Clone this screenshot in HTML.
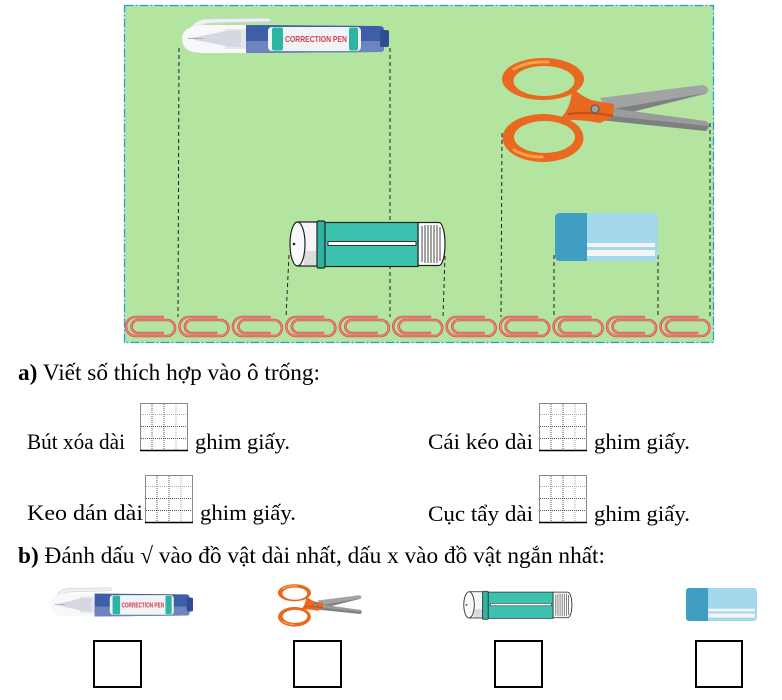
<!DOCTYPE html>
<html><head><meta charset="utf-8"><style>
html,body{margin:0;padding:0;background:#fff;}
svg{display:block;}
.t{font-family:"Liberation Serif","Noto Serif CJK SC",serif;fill:#000;}
</style></head><body>
<svg width="782" height="700" viewBox="0 0 782 700" xmlns="http://www.w3.org/2000/svg">
<defs>
<symbol id="pen" viewBox="0 0 208 38" preserveAspectRatio="none">
<path d="M9 13 Q12 3 26 2 L86 1 Q91 1.5 89 4.5 L30 6 Q18 7 15 13 Z" fill="#eef0f5" stroke="#cfd3dc" stroke-width="0.8"/>
<path d="M66 8 L22 8 Q1 9 1 22 Q1 36 22 36 L66 36 Z" fill="#f8f8fb"/>
<rect x="44" y="12" width="22" height="20" fill="#e6e7ee"/>
<path d="M60 13 L44 14 L30 17 L12 20.5 L12 22.5 L30 26 L44 29 L60 30 Z" fill="#d6d8e1"/>
<line x1="7" y1="21.5" x2="22" y2="21.5" stroke="#a9acb8" stroke-width="1"/>
<path d="M65 8 L198 9 Q203 9 203 13 L203 32 Q203 35 198 35 L65 36 Z" fill="#3f5ea8"/>
<path d="M65 24 L203 24 L203 32 Q203 35 198 35 L65 36 Z" fill="#6d84bf"/>
<rect x="87" y="10" width="93" height="24" rx="4" fill="#f2f3f5"/>
<rect x="91" y="10.5" width="11" height="23" rx="2" fill="#2cb5a3"/>
<rect x="168" y="10.5" width="9" height="23" rx="2" fill="#2cb5a3"/>
<text x="135" y="25" font-size="8.5" font-weight="bold" text-anchor="middle" textLength="62" lengthAdjust="spacingAndGlyphs" font-family="Liberation Sans, sans-serif" fill="#d0404e">CORRECTION PEN</text>
<rect x="199" y="13" width="9" height="17" rx="2" fill="#2f4c94"/>
</symbol>

<symbol id="sc" viewBox="0 0 212 108" preserveAspectRatio="none">
<path d="M100 43 L202 30 Q212 32 206 39 L112 62 Z" fill="#a2a4a4"/>
<path d="M106 55 L206 38 L112 62 Z" fill="#7f8181"/>
<path d="M102 52 L206 66 Q213 71 206 76 L100 65 Z" fill="#9a9c9c"/>
<path d="M102 60 L208 71 L206 76 L100 65 Z" fill="#7e8080"/>
<path fill-rule="evenodd" fill="#e8691f" d="M2 24 A41 21 0 1 0 84 24 A41 21 0 1 0 2 24 Z M13.5 26 A30.5 15 0 1 1 74.5 26 A30.5 15 0 1 1 13.5 26 Z"/>
<path fill-rule="evenodd" fill="#e8691f" d="M2.5 83 A40.5 24 0 1 0 83.5 83 A40.5 24 0 1 0 2.5 83 Z M14 82 A30.5 16 0 1 1 75 82 A30.5 16 0 1 1 14 82 Z"/>
<path d="M72 32 Q84 44 96 46 L114 49 L113 62 L100 68 Q85 65 72 65 L60 64 Q72 52 72 32 Z" fill="#e8691f"/>
<path d="M68 59 Q90 56 113 61" stroke="#c9501a" stroke-width="2.2" fill="none"/>
<path d="M14 14 Q28 6 48 7" stroke="#f7a449" stroke-width="3" fill="none" stroke-linecap="round"/>
<path d="M14 95 Q26 102 42 102" stroke="#f7a449" stroke-width="3" fill="none" stroke-linecap="round"/>
<circle cx="95" cy="54" r="4" fill="#a0a0a0" stroke="#5c5c5c" stroke-width="1.3"/>
</symbol>

<symbol id="glue" viewBox="0 0 162 52" preserveAspectRatio="none">
<path d="M11.5 3 L32 3 L32 47 L11.5 47 Z" fill="#f6f6f6" stroke="#222" stroke-width="1.2"/>
<rect x="18" y="32" width="14" height="14" fill="#dcdcdc"/>
<ellipse cx="11.5" cy="25" rx="7.5" ry="22" fill="#fafafa" stroke="#222" stroke-width="1.2"/>
<circle cx="8" cy="25" r="1.3" fill="#222"/>
<path d="M132 3.5 L153 3.5 A6 21.5 0 0 1 153 46.5 L132 46.5 Z" fill="#fff" stroke="#222" stroke-width="1.2"/>
<g stroke="#333" stroke-width="0.9">
<line x1="136" y1="7" x2="136" y2="43"/><line x1="139" y1="6" x2="139" y2="44"/><line x1="142" y1="6" x2="142" y2="44"/><line x1="145" y1="6" x2="145" y2="44"/><line x1="148" y1="6" x2="148" y2="44"/><line x1="151" y1="6" x2="151" y2="44"/><line x1="154" y1="8" x2="154" y2="42"/>
</g>
<rect x="38" y="3.5" width="94" height="44" fill="#3cc2ae" stroke="#222" stroke-width="1.2"/>
<rect x="31" y="2" width="8" height="47" rx="1.5" fill="#2fb4a3" stroke="#222" stroke-width="1.2"/>
<rect x="42" y="22.5" width="88" height="4" fill="#fff" stroke="#222" stroke-width="0.9"/>
</symbol>

<symbol id="er" viewBox="0 0 103 48" preserveAspectRatio="none">
<rect x="0" y="0" width="103" height="48" rx="5" fill="#a3d8ed"/>
<path d="M32 0 H5 Q0 0 0 5 V43 Q0 48 5 48 H32 Z" fill="#3f9ec1"/>
<rect x="32" y="30" width="68" height="4" fill="#f3f5f7"/>
<rect x="32" y="37" width="68" height="6" fill="#f3f5f7"/>
</symbol>

<g id="clip">
<path d="M40 2 H11.5 A9.5 9.5 0 0 0 11.5 21 H43 A8 8 0 0 0 43 5 H14 A6.5 6.5 0 0 0 14 18 H40" fill="none" stroke="#d9534f" stroke-width="2.6"/>
<path d="M40 2 H11.5 A9.5 9.5 0 0 0 11.5 21 H43 A8 8 0 0 0 43 5 H14 A6.5 6.5 0 0 0 14 18 H40" fill="none" stroke="#f2a3a0" stroke-width="0.7"/>
</g>

<g id="grid">
<rect x="0.5" y="0.5" width="47" height="47" fill="#fff" stroke="#8a8a8a" stroke-width="1"/>
<g stroke-width="1" stroke-dasharray="1 1">
<line x1="12" y1="1" x2="12" y2="47" stroke="#555"/>
<line x1="24" y1="1" x2="24" y2="47" stroke="#555"/>
<line x1="36" y1="1" x2="36" y2="47" stroke="#aaa"/>
<line x1="1" y1="11.5" x2="47" y2="11.5" stroke="#aaa"/>
<line x1="1" y1="23.5" x2="47" y2="23.5" stroke="#555"/>
<line x1="1" y1="35.5" x2="47" y2="35.5" stroke="#555"/>
</g>
<line x1="0" y1="47.5" x2="48" y2="47.5" stroke="#000" stroke-width="1.5"/>
</g>
</defs>

<rect x="124.5" y="5.5" width="589" height="337" fill="#b3e5a1" stroke="#1a9ddb" stroke-width="1.2" stroke-dasharray="9 2 2 2"/>

<g stroke="#222" stroke-width="1" stroke-dasharray="4 3" fill="none">
<line x1="179" y1="48" x2="178" y2="317"/>
<line x1="390" y1="48" x2="390" y2="317"/>
<line x1="502" y1="133" x2="501" y2="317"/>
<line x1="710" y1="123" x2="710" y2="317"/>
<line x1="289" y1="255" x2="286" y2="317"/>
<line x1="445" y1="256" x2="443" y2="317"/>
<line x1="554" y1="255" x2="554" y2="317"/>
<line x1="658" y1="255" x2="658" y2="317"/>
</g>

<use href="#pen" x="181" y="17" width="208" height="38"/>
<use href="#sc" x="500" y="55" width="212" height="108"/>
<use href="#glue" x="286" y="219" width="162" height="52"/>
<use href="#er" x="555" y="213" width="103" height="48"/>

<use href="#clip" transform="translate(124,315)"/>
<use href="#clip" transform="translate(177.45,315)"/>
<use href="#clip" transform="translate(230.9,315)"/>
<use href="#clip" transform="translate(284.35,315)"/>
<use href="#clip" transform="translate(337.8,315)"/>
<use href="#clip" transform="translate(391.25,315)"/>
<use href="#clip" transform="translate(444.7,315)"/>
<use href="#clip" transform="translate(498.15,315)"/>
<use href="#clip" transform="translate(551.6,315)"/>
<use href="#clip" transform="translate(605.05,315)"/>
<use href="#clip" transform="translate(658.5,315)"/>

<g class="t" font-family="Liberation Serif, serif">
<text class="t" font-family="Liberation Serif, serif" x="18" y="380" font-size="23" textLength="302" lengthAdjust="spacingAndGlyphs"><tspan font-weight="bold">a)</tspan> Viết số thích hợp vào ô trống:</text>

<text class="t" font-family="Liberation Serif, serif" x="27" y="449" font-size="22" textLength="98" lengthAdjust="spacingAndGlyphs">Bút xóa dài</text>
<text class="t" font-family="Liberation Serif, serif" x="195" y="449" font-size="22" textLength="95" lengthAdjust="spacingAndGlyphs">ghim giấy.</text>

<text class="t" font-family="Liberation Serif, serif" x="27" y="520" font-size="22" textLength="116" lengthAdjust="spacingAndGlyphs">Keo dán dài</text>
<text class="t" font-family="Liberation Serif, serif" x="200" y="520" font-size="22" textLength="96" lengthAdjust="spacingAndGlyphs">ghim giấy.</text>

<text class="t" font-family="Liberation Serif, serif" x="428" y="449" font-size="22" textLength="105" lengthAdjust="spacingAndGlyphs">Cái kéo dài</text>
<text class="t" font-family="Liberation Serif, serif" x="594" y="449" font-size="22" textLength="96" lengthAdjust="spacingAndGlyphs">ghim giấy.</text>

<text class="t" font-family="Liberation Serif, serif" x="428" y="521" font-size="22" textLength="105" lengthAdjust="spacingAndGlyphs">Cục tẩy dài</text>
<text class="t" font-family="Liberation Serif, serif" x="594" y="521" font-size="22" textLength="96" lengthAdjust="spacingAndGlyphs">ghim giấy.</text>

<text class="t" font-family="Liberation Serif, serif" x="18" y="563" font-size="23" textLength="587" lengthAdjust="spacingAndGlyphs"><tspan font-weight="bold">b)</tspan> Đánh dấu √ vào đồ vật dài nhất, dấu x vào đồ vật ngắn nhất:</text>
</g>

<use href="#grid" transform="translate(140,403)"/>
<use href="#grid" transform="translate(145,475)"/>
<use href="#grid" transform="translate(539,403)"/>
<use href="#grid" transform="translate(539,475)"/>

<use href="#pen" x="50" y="587" width="143" height="31"/>
<use href="#sc" x="277" y="583" width="86" height="44"/>
<use href="#glue" x="461" y="590" width="113" height="31"/>
<use href="#er" x="686" y="588" width="71" height="33"/>

<g fill="#fff" stroke="#000" stroke-width="2">
<rect x="94" y="641" width="47" height="46"/>
<rect x="294" y="641" width="47" height="46"/>
<rect x="495" y="641" width="47" height="46"/>
<rect x="696" y="641" width="46" height="46"/>
</g>
</svg>
</body></html>
